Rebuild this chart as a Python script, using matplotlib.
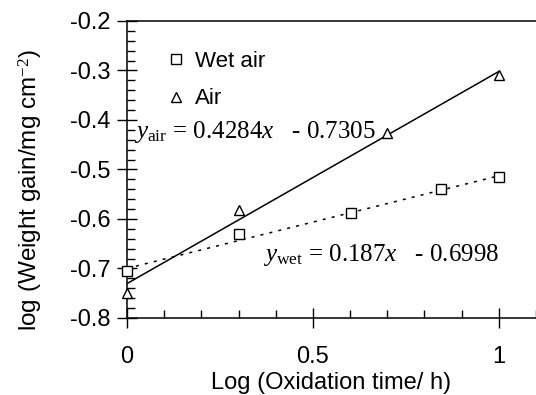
import matplotlib
matplotlib.use('Agg')
import matplotlib.pyplot as plt
from matplotlib.ticker import MultipleLocator
import numpy as np

# data
wet_x = [0.0, 0.301, 0.602, 0.845, 1.0]
wet_y = [-0.706, -0.631, -0.587, -0.540, -0.516]
air_x = [0.0, 0.301, 0.699, 1.0]
air_y = [-0.749, -0.582, -0.427, -0.310]
air_fit = (0.4284, -0.7305)
wet_fit = (0.187, -0.6998)

plt.rcParams['font.family'] = 'Liberation Sans'
plt.rcParams['mathtext.fontset'] = 'custom'
plt.rcParams['mathtext.rm'] = 'Liberation Serif'
plt.rcParams['mathtext.it'] = 'Liberation Serif:italic'

fig = plt.figure(figsize=(5.36, 3.95), dpi=100)
ax = fig.add_axes([0.237, 0.195, 0.763, 0.752])

xf = np.array([0.0, 1.0])
ax.plot(xf, air_fit[0]*xf + air_fit[1], color='black', lw=1.1, zorder=1)
ax.plot(xf, wet_fit[0]*xf + wet_fit[1], color='black', lw=1.1,
        linestyle=(0, (2, 4)), zorder=1)

ax.plot(wet_x, wet_y, 's', ms=7, mfc='white', mec='black', mew=1.0,
        linestyle='none', label='Wet air', zorder=3, clip_on=False)
ax.plot(air_x, air_y, '^', ms=7, mfc='white', mec='black', mew=1.0,
        linestyle='none', label='Air', zorder=3, clip_on=False)

ax.set_xlim(0, 1.1)
ax.set_ylim(-0.8, -0.2)
ax.xaxis.set_minor_locator(MultipleLocator(0.1))
ax.yaxis.set_major_locator(MultipleLocator(0.1))
ax.yaxis.set_minor_locator(MultipleLocator(0.02))
ax.set_xticks([0, 0.5, 1])
ax.set_xticklabels(['0', '0.5', '1'])
ax.set_yticklabels(['%.1f' % v for v in ax.get_yticks()])

ax.spines['right'].set_visible(False)
for s in ['left', 'bottom', 'top']:
    ax.spines[s].set_linewidth(1.1)

ax.tick_params(which='major', direction='inout', length=14, width=1.0,
               labelsize=17)
ax.tick_params(which='minor', direction='in', length=6, width=1.0)
ax.tick_params(axis='x', which='major', pad=13)
ax.tick_params(axis='y', which='major', pad=5)
ax.tick_params(top=False, right=False, which='both')

ax.set_xlabel('Log (Oxidation time/ h)', fontsize=17, labelpad=3)
ax.set_ylabel('log (Weight gain/mg cm$^{-2}$)', fontsize=17.5)
ax.yaxis.set_label_coords(-0.2, 0.43)

ax.legend(loc='upper left', bbox_to_anchor=(0.06, 0.93), frameon=False,
          fontsize=16, handletextpad=0.15, labelspacing=0.75, handlelength=1.4,
          borderaxespad=0)

ax.text(0.02, -0.425, r'$y_{\mathrm{air}}$ = 0.4284$x$   - 0.7305',
        fontsize=18, family='Liberation Serif', va='center', ha='left')
ax.text(0.365, -0.672, r'$y_{\mathrm{wet}}$ = 0.187$x$   - 0.6998',
        fontsize=18, family='Liberation Serif', va='center', ha='left')

fig.savefig('out.png', dpi=100)
